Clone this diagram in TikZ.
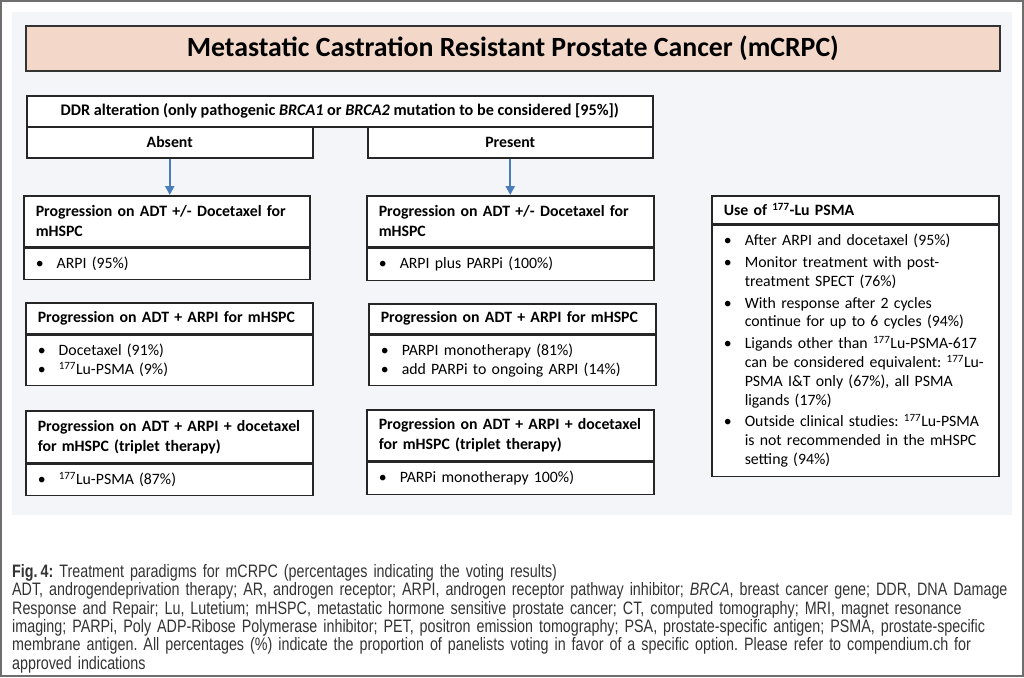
\documentclass[tikz,border=0pt]{standalone}
\usepackage{fontspec}
\setmainfont{Carlito}
\newfontfamily\capfont[FakeStretch=0.795]{Liberation Sans}
\usetikzlibrary{arrows.meta, positioning}

\definecolor{panelbg}{HTML}{F3F5F9}
\definecolor{titlefill}{HTML}{F3D8CA}
\definecolor{arrowblue}{HTML}{4A7EBB}
\definecolor{capgray}{HTML}{333333}
\definecolor{framegray}{HTML}{6E6E6E}

\newcommand{\boxfont}{\fontsize{15.8}{20}\selectfont\hyphenpenalty=10000\relax}
\newcommand{\itemfont}{\fontsize{15.8}{18.8}\selectfont\frenchspacing\hyphenpenalty=10000\relax\setlength{\parskip}{3pt}}
\newcommand{\capsize}{\capfont\fontsize{18}{18.4}\selectfont\frenchspacing\hyphenpenalty=10000\relax}
\newcommand{\lu}{\textsuperscript{177}}
\newcommand{\bul}[1]{{\hangindent=21pt\hangafter=1\relax\noindent\makebox[21pt][l]{\textbullet}#1\par}}

\begin{document}
\begin{tikzpicture}[
    x=1pt, y=-1pt,
    cell/.style={draw=black!85, line width=1.5pt, fill=white, anchor=north west,
        inner xsep=12pt, inner ysep=0pt, align=left},
    hdr/.style={cell, font=\boxfont\bfseries},
    body/.style={cell, font=\itemfont},
    flow/.style={draw=arrowblue, line width=2.2pt, -{Triangle[length=9pt, width=9pt]}}
]
    \useasboundingbox (0,0) rectangle (1024,677);
    \draw[framegray, line width=1.5pt] (1,1) rectangle (1023,676);
    \fill[panelbg] (12,12) rectangle (1012,515);

    % title
    \node[cell, fill=titlefill, draw=black!80, line width=1.7pt, align=center,
        minimum width=974pt, minimum height=45pt,
        font=\fontsize{27.8}{32}\selectfont\bfseries] (title) at (25,25)
        {Metastatic Castration Resistant Prostate Cancer (mCRPC)};

    % DDR split
    \node[hdr, align=center, minimum width=626pt, minimum height=31pt,
        font=\fontsize{16.2}{20}\selectfont\bfseries] (ddr) at (26,95)
        {DDR alteration (only pathogenic \textit{BRCA1} or \textit{BRCA2} mutation to be considered [95\%])};
    \node[hdr, align=center, minimum width=286pt, minimum height=31pt] (absent) at (26,126) {Absent};
    \node[hdr, align=center, minimum width=285pt, minimum height=31pt] (present) at (367,126) {Present};

    % Absent column
    \node[hdr, text width=262pt, minimum height=51pt] (abs1) at (23,195)
        {Progression on ADT +/- Docetaxel for\\mHSPC};
    \node[body, text width=262pt, minimum height=31pt] (abs1b) at (abs1.south west)
        {\bul{ARPI (95\%)}};
    \node[hdr, text width=263pt, minimum height=31pt] (abs2) at (25,302)
        {Progression on ADT + ARPI for mHSPC};
    \node[body, text width=263pt, minimum height=50pt] (abs2b) at (abs2.south west)
        {\bul{Docetaxel (91\%)}\vspace{-3pt}\bul{\lu Lu-PSMA (9\%)}};
    \node[hdr, text width=263pt, minimum height=52pt] (abs3) at (25,410)
        {Progression on ADT + ARPI + docetaxel\\for mHSPC (triplet therapy)};
    \node[body, text width=263pt, minimum height=31pt] (abs3b) at (abs3.south west)
        {\bul{\lu Lu-PSMA (87\%)}};

    % Present column
    \node[hdr, text width=263pt, minimum height=51pt] (pre1) at (366,195)
        {Progression on ADT +/- Docetaxel for\\mHSPC};
    \node[body, text width=263pt, minimum height=32pt] (pre1b) at (pre1.south west)
        {\bul{ARPI plus PARPi (100\%)}};
    \node[hdr, text width=263pt, minimum height=30pt] (pre2) at (368,303)
        {Progression on ADT + ARPI for mHSPC};
    \node[body, text width=263pt, minimum height=50pt] (pre2b) at (pre2.south west)
        {\bul{PARPI monotherapy (81\%)}\vspace{-3pt}\bul{add PARPi to ongoing ARPI (14\%)}};
    \node[hdr, text width=263pt, minimum height=51pt] (pre3) at (366,409)
        {Progression on ADT + ARPI + docetaxel\\for mHSPC (triplet therapy)};
    \node[body, text width=263pt, minimum height=32pt] (pre3b) at (pre3.south west)
        {\bul{PARPi monotherapy 100\%)}};

    % 177Lu-PSMA box
    \node[hdr, text width=263pt, minimum height=28pt] (lu) at (711,195)
        {Use of \lu-Lu PSMA};
    \node[body, text width=263pt, minimum height=251pt] (lub) at (lu.south west)
        {\bul{After ARPI and docetaxel (95\%)}
         \bul{Monitor treatment with post-\newline treatment SPECT (76\%)}
         \bul{With response after 2 cycles\newline continue for up to 6 cycles (94\%)}
         \bul{Ligands other than \lu Lu-PSMA-617\newline can be considered equivalent: \lu Lu-\newline PSMA I\&T only (67\%), all PSMA\newline ligands (17\%)}
         \bul{Outside clinical studies: \lu Lu-PSMA\newline is not recommended in the mHSPC\newline setting (94\%)}};

    \draw[flow] (absent.south) -- (absent.south |- abs1.north);
    \draw[flow] (present.south) -- (present.south |- pre1.north);

    % caption
    \node[anchor=north west, inner sep=0pt, text width=1008pt, align=left, text=capgray,
        font=\capsize] (caption) at (12,564)
        {\textbf{Fig.\,4:} Treatment paradigms for mCRPC (percentages indicating the voting results)\\
         ADT, androgendeprivation therapy; AR, androgen receptor; ARPI, androgen receptor pathway inhibitor; \textit{BRCA}, breast cancer gene; DDR, DNA Damage\\
         Response and Repair; Lu, Lutetium; mHSPC, metastatic hormone sensitive prostate cancer; CT, computed tomography; MRI, magnet resonance\\
         imaging; PARPi, Poly ADP-Ribose Polymerase inhibitor; PET, positron emission tomography; PSA, prostate-specific antigen; PSMA, prostate-specific\\
         membrane antigen. All percentages (\%) indicate the proportion of panelists voting in favor of a specific option. Please refer to compendium.ch for\\
         approved indications};
\end{tikzpicture}
\end{document}
